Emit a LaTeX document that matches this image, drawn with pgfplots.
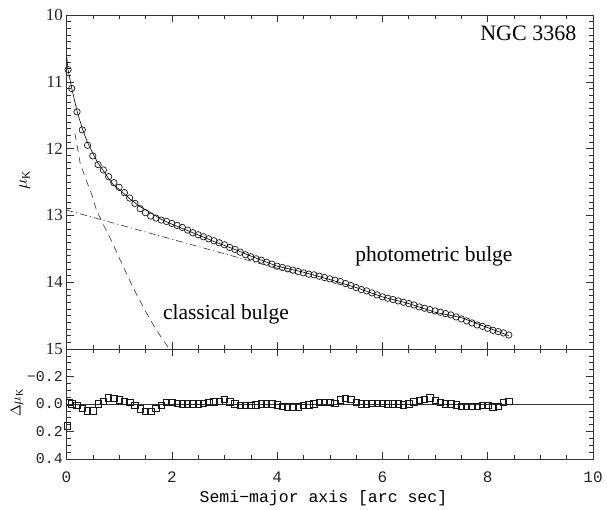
\documentclass[border=0pt]{standalone}
\usepackage{pgfplots}
\usepackage{pgfplotstable}
\pgfplotsset{compat=1.18}
\usepackage{fontspec}
\setmainfont{Liberation Serif}
\newfontfamily\monofont{Liberation Mono}

% K-band surface brightness profile of NGC 3368
\pgfplotstableread{
r mu
0.03 10.82
0.10 11.10
0.20 11.45
0.30 11.72
0.40 11.95
0.50 12.11
0.60 12.24
0.70 12.32
0.80 12.42
0.90 12.51
1.00 12.58
1.10 12.66
1.20 12.74
1.30 12.82
1.40 12.90
1.50 12.96
1.60 13.01
1.70 13.04
1.80 13.07
1.90 13.09
2.00 13.12
2.10 13.15
2.20 13.18
2.30 13.22
2.40 13.26
2.50 13.29
2.60 13.32
2.70 13.35
2.80 13.38
2.90 13.41
3.00 13.44
3.10 13.48
3.20 13.51
3.30 13.55
3.40 13.59
3.50 13.62
3.60 13.65
3.70 13.67
3.80 13.70
3.90 13.73
4.00 13.76
4.10 13.78
4.20 13.80
4.30 13.82
4.40 13.84
4.50 13.86
4.60 13.88
4.70 13.89
4.80 13.91
4.90 13.93
5.00 13.95
5.10 13.97
5.20 13.99
5.30 14.02
5.40 14.05
5.50 14.08
5.60 14.11
5.70 14.13
5.80 14.16
5.90 14.19
6.00 14.22
6.10 14.24
6.20 14.26
6.30 14.28
6.40 14.30
6.50 14.32
6.60 14.34
6.70 14.37
6.80 14.39
6.90 14.41
7.00 14.43
7.10 14.45
7.20 14.47
7.30 14.49
7.40 14.52
7.50 14.55
7.60 14.58
7.70 14.61
7.80 14.64
7.90 14.66
8.00 14.69
8.10 14.72
8.20 14.74
8.30 14.76
8.40 14.79
}\profile

% total model (bulge + disc)
\pgfplotstableread{
r mu
0.00 10.60
0.03 10.82
0.10 11.10
0.20 11.44
0.30 11.70
0.40 11.91
0.50 12.07
0.60 12.22
0.70 12.33
0.80 12.45
0.90 12.55
1.00 12.61
1.20 12.75
1.40 12.87
1.60 12.96
1.80 13.06
2.00 13.13
2.40 13.26
2.80 13.39
3.20 13.51
3.60 13.64
4.00 13.76
4.50 13.85
5.00 13.96
5.50 14.08
6.00 14.22
6.50 14.32
7.00 14.45
7.50 14.53
8.00 14.68
8.40 14.80
}\model

% classical bulge component
\pgfplotstableread{
r mu
0.16 11.77
0.26 12.22
0.35 12.42
0.48 12.69
0.57 12.92
0.70 13.14
0.83 13.34
1.05 13.72
1.27 14.09
1.49 14.42
1.71 14.72
1.90 14.94
2.00 15.05
}\bulge

% exponential component
\pgfplotstableread{
r mu
0.00 12.92
4.40 13.88
}\disc

% residuals (data - model)
\pgfplotstableread{
r dmu
0.02 0.16
0.05 -0.01
0.10 0.00
0.20 0.01
0.30 0.03
0.40 0.05
0.50 0.05
0.60 0.00
0.70 -0.02
0.80 -0.045
0.90 -0.04
1.00 -0.03
1.10 -0.02
1.20 -0.01
1.30 0.01
1.40 0.035
1.50 0.055
1.60 0.055
1.70 0.03
1.80 0.01
1.90 -0.01
2.00 -0.01
2.10 -0.005
2.20 0.00
2.30 0.00
2.40 0.00
2.50 0.00
2.60 -0.005
2.70 -0.01
2.80 -0.015
2.90 -0.02
3.00 -0.035
3.10 -0.015
3.20 0.00
3.30 0.01
3.40 0.01
3.50 0.01
3.60 0.005
3.70 0.00
3.80 0.00
3.90 0.00
4.00 0.005
4.10 0.015
4.20 0.02
4.30 0.02
4.40 0.02
4.50 0.01
4.60 0.005
4.70 0.00
4.80 -0.01
4.90 -0.01
5.00 -0.01
5.10 -0.005
5.20 -0.03
5.30 -0.04
5.40 -0.035
5.50 -0.01
5.60 0.00
5.70 0.00
5.80 -0.005
5.90 -0.005
6.00 -0.005
6.10 0.00
6.20 0.00
6.30 0.00
6.40 0.005
6.50 0.00
6.60 -0.015
6.70 -0.025
6.80 -0.035
6.90 -0.045
7.00 -0.025
7.10 -0.01
7.20 0.00
7.30 0.00
7.40 0.005
7.50 0.015
7.60 0.015
7.70 0.015
7.80 0.015
7.90 0.01
8.00 0.01
8.10 0.02
8.20 0.015
8.30 -0.01
8.40 -0.02
}\resid

\pgfplotsset{
  panel/.style={
    scale only axis, width=526.5pt, anchor=south west,
    xmin=0, xmax=10, y dir=reverse,
    xtick={0,2,4,6,8,10}, minor x tick num=3,
    tick align=inside, xtick pos=both, ytick pos=both,
    major tick length=7pt, minor tick length=4pt,
    axis line style={black!80, line width=0.6pt},
    every tick/.style={black!80, line width=0.5pt},
    clip=true,
  },
}

\begin{document}
\begin{tikzpicture}
\useasboundingbox (0pt,0pt) rectangle (607pt,510pt);

% profile panel
\begin{axis}[panel,
  at={(66.5pt,161pt)}, height=334pt,
  ymin=10, ymax=15,
  xticklabels={},
  ytick={10,11,12,13,14,15}, yticklabels={10,11,12,13,14,15},
  minor y tick num=9,
  yticklabel style={font=\fontsize{17}{20}\selectfont, text=black!85},
  every axis y label/.style={at={(axis description cs:-0.079,0.506)}, rotate=90, anchor=center},
  ylabel={\fontsize{16}{18}\selectfont$\mu_{\mathrm{K}}$},
]
\addplot[black!80, line width=0.6pt, dash pattern=on 7pt off 5pt] table {\bulge};
\addplot[black!80, line width=0.6pt, dash pattern=on 7pt off 3pt on 1.2pt off 3pt] table {\disc};
\addplot[black, line width=0.6pt] table {\model};
\addplot[black!90, only marks, mark=o, mark size=3.2pt, mark options={line width=0.7pt}] table {\profile};
\node[anchor=east, font=\fontsize{22}{26}\selectfont] at (axis cs:9.75,10.27) {NGC 3368};
\node[font=\fontsize{21.5}{26}\selectfont] at (axis cs:6.98,13.62) {photometric bulge};
\node[font=\fontsize{21.5}{26}\selectfont] at (axis cs:3.03,14.48) {classical bulge};
\end{axis}

% residual panel
\begin{axis}[panel,
  at={(66.5pt,51pt)}, height=110pt,
  ymin=-0.4, ymax=0.4,
  xticklabels={0,2,4,6,8,10},
  xticklabel style={font=\monofont\fontsize{16}{18}\selectfont, text=black!85},
  xticklabel shift=9pt,
  ytick={-0.4,-0.2,0,0.2,0.4}, yticklabels={{},{−0.2},{0.0},{0.2},{0.4}},
  minor y tick num=3,
  yticklabel style={font=\monofont\fontsize{15}{18}\selectfont, text=black!85},
  every axis y label/.style={at={(axis description cs:-0.094,0.51)}, rotate=90, anchor=center},
  ylabel={\fontsize{14}{16}\selectfont$\Delta\mu_{\mathrm{K}}$},
  every axis x label/.style={at={(axis description cs:0.488,-0.355)}, anchor=center},
  xlabel={\monofont\fontsize{16.5}{18}\selectfont Semi−major axis [arc sec]},
]
\addplot[black!80, line width=0.6pt] coordinates {(0,0) (10,0)};
\addplot[black!90, only marks, mark=square, mark size=3.2pt, mark options={line width=0.7pt}] table {\resid};
\end{axis}
\end{tikzpicture}
\end{document}
